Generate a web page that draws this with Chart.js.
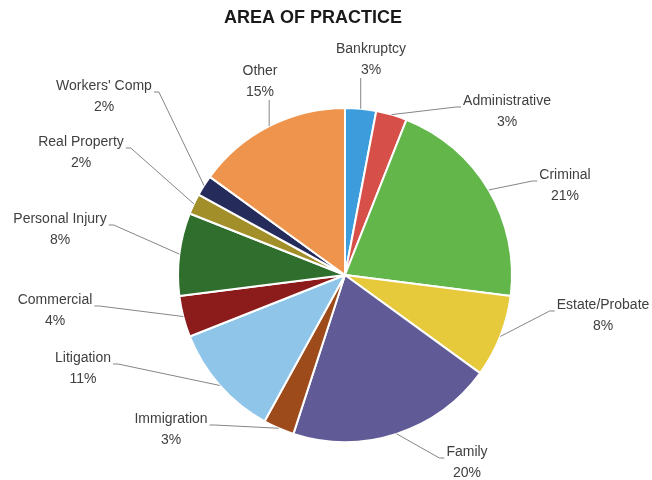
<!DOCTYPE html>
<html>
<head>
<meta charset="utf-8">
<script src="https://cdn.jsdelivr.net/npm/chart.js@4"></script>
<style>
  html, body { margin: 0; padding: 0; background: #fff; }
  #wrap { width: 652px; height: 480px; }
</style>
</head>
<body>
<div id="wrap"><canvas id="practiceChart" width="652" height="480"></canvas></div>
<script>
// Areas of practice, clockwise from 12 o'clock
var areas = ['Bankruptcy', 'Administrative', 'Criminal', 'Estate/Probate', 'Family', 'Immigration',
             'Litigation', 'Commercial', 'Personal Injury', 'Real Property', "Workers' Comp", 'Other'];
var shares = [3, 3, 21, 8, 20, 3, 11, 4, 8, 2, 2, 15];

var sliceColors = ['#3d9cdb', '#d64f49', '#62b64a', '#e7c93c', '#605b96', '#9e4b1c',
                   '#8fc5e8', '#8c1c1c', '#306e2d', '#a38f2a', '#252b5a', '#ef944c'];

// centre of the name line of each callout
var labelPos = [[371, 49], [507, 101], [565, 175], [603, 305], [467, 452], [171, 419],
                [83, 358], [55, 300], [60, 219], [81, 142], [104, 86], [260, 71]];

var calloutLabels = {
    id: 'calloutLabels',
    afterDatasetsDraw: function(chart) {
        var ctx = chart.ctx;
        var arcs = chart.getDatasetMeta(0).data;
        ctx.save();

        // title
        ctx.fillStyle = '#1a1a1a';
        ctx.font = 'bold 18px "Liberation Sans"';
        ctx.textAlign = 'center';
        ctx.textBaseline = 'middle';
        ctx.fillText('AREA OF PRACTICE', 313, 18);

        ctx.font = '14px "Liberation Sans"';
        arcs.forEach(function(arc, i) {
            var p = arc.getProps(['x', 'y', 'startAngle', 'endAngle', 'outerRadius']);
            var mid = (p.startAngle + p.endAngle) / 2;
            var ex = p.x + Math.cos(mid) * p.outerRadius;
            var ey = p.y + Math.sin(mid) * p.outerRadius;
            var lx = labelPos[i][0], ly = labelPos[i][1];
            var w = ctx.measureText(areas[i]).width;

            ctx.strokeStyle = '#858585';
            ctx.lineWidth = 1;
            ctx.beginPath();
            ctx.moveTo(ex, ey);
            if (ey - 10 > ly + 29 && Math.abs(ex - lx) < w / 2 + 10) {
                // label sits straight above the slice
                ctx.lineTo(ex, ly + 29);
            } else if (lx > ex) {
                ctx.lineTo(lx - w / 2 - 7, ly + 6);
                ctx.lineTo(lx - w / 2 - 2, ly + 6);
            } else {
                ctx.lineTo(lx + w / 2 + 7, ly + 6);
                ctx.lineTo(lx + w / 2 + 2, ly + 6);
            }
            ctx.stroke();

            ctx.fillStyle = '#404040';
            ctx.fillText(areas[i], lx, ly);
            ctx.fillText(shares[i] + '%', lx, ly + 21);
        });
        ctx.restore();
    }
};

var ctx = document.getElementById('practiceChart').getContext('2d');
var practiceChart = new Chart(ctx, {
    type: 'pie',
    data: {
        labels: areas,
        datasets: [{
            data: shares,
            backgroundColor: sliceColors,
            borderColor: '#ffffff',
            borderWidth: 2
        }]
    },
    options: {
        responsive: false,
        animation: false,
        radius: 167,
        layout: {
            padding: { left: 60, right: 22, top: 100, bottom: 30 }
        },
        plugins: {
            legend: { display: false },
            tooltip: { enabled: false },
            title: { display: false }
        }
    },
    plugins: [calloutLabels]
});
</script>
</body>
</html>
